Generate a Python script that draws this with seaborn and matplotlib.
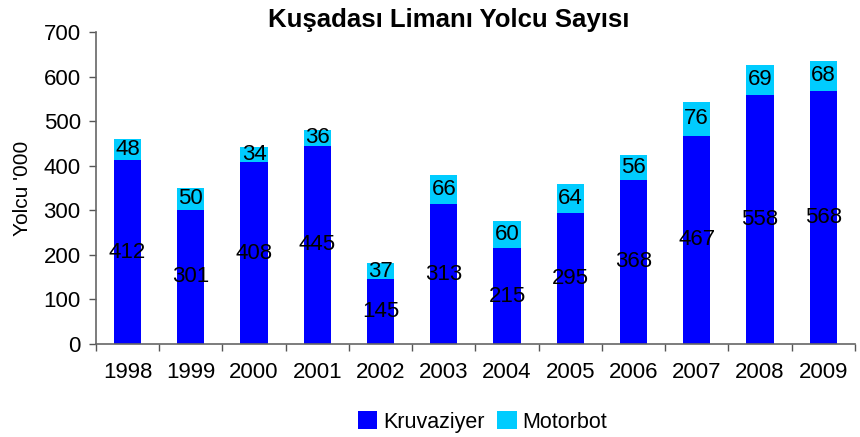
import matplotlib
matplotlib.use("Agg")
import matplotlib.pyplot as plt
import seaborn as sns
import pandas as pd
from matplotlib.patches import Patch

years = ["1998", "1999", "2000", "2001", "2002", "2003", "2004", "2005", "2006", "2007", "2008", "2009"]
kruvaziyer = [412, 301, 408, 445, 145, 313, 215, 295, 368, 467, 558, 568]
motorbot = [48, 50, 34, 36, 37, 66, 60, 64, 56, 76, 69, 68]

sns.set_theme(style="white")
plt.rcParams['font.family'] = ['Liberation Sans', 'DejaVu Sans']
plt.rcParams['text.color'] = 'black'
plt.rcParams['axes.labelcolor'] = 'black'
plt.rcParams['xtick.labelcolor'] = 'black'
plt.rcParams['ytick.labelcolor'] = 'black'

df = pd.DataFrame({"Yıl": years, "Kruvaziyer": kruvaziyer, "Motorbot": motorbot})
df["Toplam"] = df["Kruvaziyer"] + df["Motorbot"]

c_k = "#0000FF"
c_m = "#00CCFF"
fs = 16

fig = plt.figure(figsize=(8.6, 4.37), dpi=100)
ax = fig.add_axes([0.1116, 0.2128, 0.8824, 0.714])

sns.barplot(data=df, x="Yıl", y="Toplam", color=c_m, width=0.43, saturation=1, linewidth=0, edgecolor="none", ax=ax)
sns.barplot(data=df, x="Yıl", y="Kruvaziyer", color=c_k, width=0.43, saturation=1, linewidth=0, edgecolor="none", ax=ax)

for i, (k, m) in enumerate(zip(kruvaziyer, motorbot)):
    ax.text(i, k / 2, str(k), ha="center", va="center", fontsize=fs, color="black")
    ax.text(i, k + m / 2, str(m), ha="center", va="center", fontsize=fs, color="black")

ax.set_xlim(-0.5, 11.5)
ax.set_ylim(0, 700)
ax.set_yticks(range(0, 701, 100))
ax.set_xticks(range(len(years)))
ax.set_xticklabels(years)
ax.set_xticks([i - 0.5 for i in range(len(years) + 1)], minor=True)
ax.tick_params(axis="x", which="major", length=0, pad=13, labelsize=fs, labelcolor="black")
ax.tick_params(axis="x", which="minor", length=5, width=1, color="#555555", direction="out", bottom=True)
ax.tick_params(axis="y", which="major", length=5, width=1, color="#555555", direction="out", left=True, labelsize=fs, pad=6, labelcolor="black")
for s in ["top", "right"]:
    ax.spines[s].set_visible(False)
for s in ["left", "bottom"]:
    ax.spines[s].set_color("#666666")
    ax.spines[s].set_linewidth(1.2)

ax.set_xlabel("")
ax.set_ylabel("Yolcu '000", fontsize=15, labelpad=8, color="black")
fig.text(0.522, 0.955, "Kuşadası Limanı Yolcu Sayısı", ha="center", va="center", fontsize=18.5, fontweight="bold", color="black")

handles = [Patch(facecolor=c_k, edgecolor="none"), Patch(facecolor=c_m, edgecolor="none")]
fig.legend(handles, ["Kruvaziyer", "Motorbot"], loc="center", bbox_to_anchor=(0.561, 0.034), ncol=2, frameon=False,
           fontsize=15.5, handlelength=0.9, handleheight=0.9, handletextpad=0.25, columnspacing=0.6, labelcolor="black")

fig.savefig("out.png", dpi=100)
